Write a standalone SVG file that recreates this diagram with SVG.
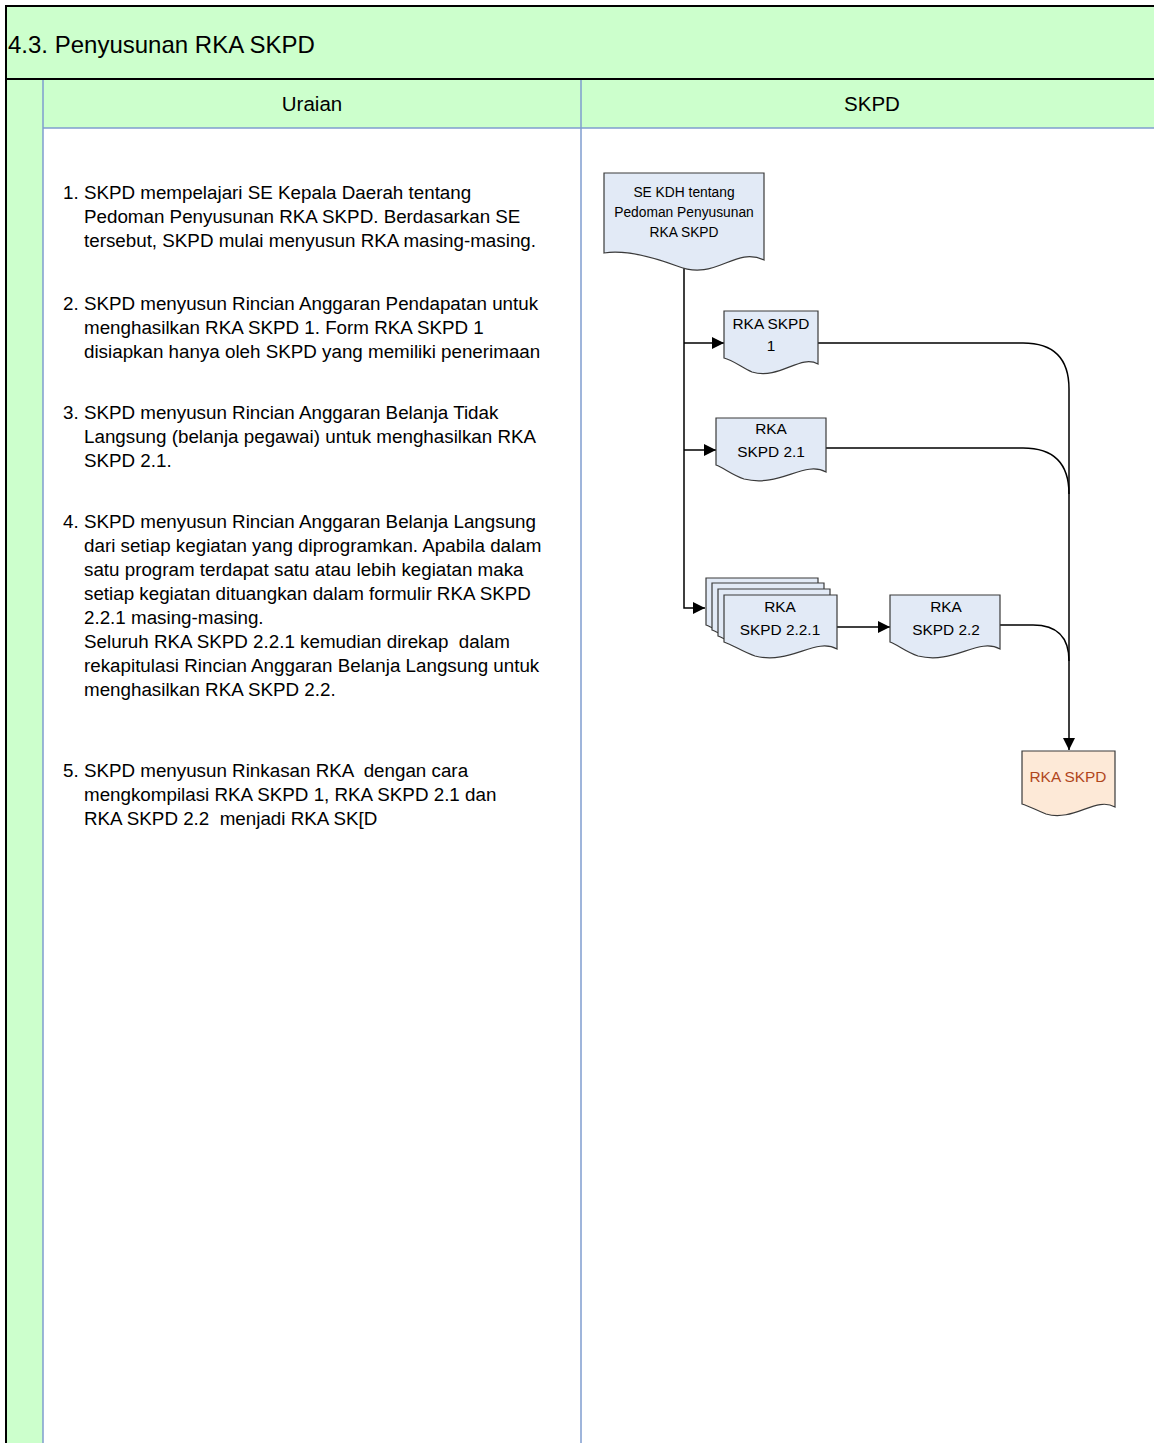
<svg xmlns="http://www.w3.org/2000/svg" width="1154" height="1443" viewBox="0 0 1154 1443">
  <defs>
    <marker id="arrow" viewBox="0 0 12 12" refX="12" refY="6" markerWidth="12" markerHeight="12" markerUnits="userSpaceOnUse" orient="auto">
      <path d="M0,0 L12,6 L0,12 Z" fill="#000"/>
    </marker>
  </defs>
  <style>
    .lane { fill: #ccffcc; }
    .grid { stroke: #7f9ccf; stroke-width: 1.5; fill: none; }
    .doc { fill: #e2eaf6; stroke: #3a3a3a; stroke-width: 1.2; }
    .out { fill: #fde9d7; stroke: #3a3a3a; stroke-width: 1.2; }
    .txt { font-family: "Liberation Sans", Arial, sans-serif; fill: #000; }
    .body { font-size: 18.8px; }
    .lbl { font-size: 15.4px; text-anchor: middle; }
    .conn { fill: none; stroke: #000; stroke-width: 1.5; }
  </style>

  <!-- page background -->
  <rect x="0" y="0" width="1154" height="1443" fill="#fff"/>

  <!-- swimlane frame -->
  <g id="frame">
    <rect class="lane" x="6" y="6" width="1160" height="73" stroke="#000" stroke-width="2"/>
    <rect class="lane" x="6" y="79" width="37" height="1370"/>
    <rect class="lane" x="43" y="79" width="1120" height="49"/>
    <line x1="6" y1="79" x2="6" y2="1443" stroke="#000" stroke-width="2"/>
    <line class="grid" x1="43" y1="79" x2="43" y2="1443"/>
    <line class="grid" x1="43" y1="128" x2="1154" y2="128"/>
    <line class="grid" x1="581" y1="79" x2="581" y2="1443"/>
    <line x1="6" y1="79" x2="1154" y2="79" stroke="#000" stroke-width="2"/>
    <text class="txt" x="8" y="53" font-size="24">4.3. Penyusunan RKA SKPD</text>
    <text class="txt" x="312" y="111" font-size="20.5" text-anchor="middle">Uraian</text>
    <text class="txt" x="872" y="111" font-size="20.5" text-anchor="middle">SKPD</text>
  </g>

  <!-- step descriptions -->
  <g id="uraian" class="txt body">
    <text x="63" y="199">1. SKPD mempelajari SE Kepala Daerah tentang</text>
    <text x="84" y="223">Pedoman Penyusunan RKA SKPD. Berdasarkan SE</text>
    <text x="84" y="247">tersebut, SKPD mulai menyusun RKA masing-masing.</text>

    <text x="63" y="310">2. SKPD menyusun Rincian Anggaran Pendapatan untuk</text>
    <text x="84" y="334">menghasilkan RKA SKPD 1. Form RKA SKPD 1</text>
    <text x="84" y="358">disiapkan hanya oleh SKPD yang memiliki penerimaan</text>

    <text x="63" y="419">3. SKPD menyusun Rincian Anggaran Belanja Tidak</text>
    <text x="84" y="443">Langsung (belanja pegawai) untuk menghasilkan RKA</text>
    <text x="84" y="467">SKPD 2.1.</text>

    <text x="63" y="528">4. SKPD menyusun Rincian Anggaran Belanja Langsung</text>
    <text x="84" y="552">dari setiap kegiatan yang diprogramkan. Apabila dalam</text>
    <text x="84" y="576">satu program terdapat satu atau lebih kegiatan maka</text>
    <text x="84" y="600">setiap kegiatan dituangkan dalam formulir RKA SKPD</text>
    <text x="84" y="624">2.2.1 masing-masing.</text>
    <text x="84" y="648" xml:space="preserve">Seluruh RKA SKPD 2.2.1 kemudian direkap  dalam</text>
    <text x="84" y="672">rekapitulasi Rincian Anggaran Belanja Langsung untuk</text>
    <text x="84" y="696">menghasilkan RKA SKPD 2.2.</text>

    <text x="63" y="777" xml:space="preserve">5. SKPD menyusun Rinkasan RKA  dengan cara</text>
    <text x="84" y="801">mengkompilasi RKA SKPD 1, RKA SKPD 2.1 dan</text>
    <text x="84" y="825" xml:space="preserve">RKA SKPD 2.2  menjadi RKA SK[D</text>
  </g>

  <!-- connectors -->
  <g id="connectors">
    <path class="conn" d="M684,264 V608 H705" marker-end="url(#arrow)"/>
    <path class="conn" d="M684,343 H724" marker-end="url(#arrow)"/>
    <path class="conn" d="M684,450 H716" marker-end="url(#arrow)"/>
    <path class="conn" d="M837,627 H890" marker-end="url(#arrow)"/>
    <path class="conn" d="M818,343 H1023 Q1069,343 1069,389 V750" marker-end="url(#arrow)"/>
    <path class="conn" d="M826,448 H1023 Q1069,448 1069,494"/>
    <path class="conn" d="M1000,625 H1033 Q1069,625 1069,661"/>
  </g>

  <!-- SE KDH source document -->
  <g id="se-kdh">
    <path class="doc" d="M604,173 H764 V260 C734,246 716,282 677,266 C650,256 624,250 604,253 Z"/>
    <text class="txt" font-size="13.8" text-anchor="middle" x="684" y="197">SE KDH tentang</text>
    <text class="txt" font-size="13.8" text-anchor="middle" x="684" y="217">Pedoman Penyusunan</text>
    <text class="txt" font-size="13.8" text-anchor="middle" x="684" y="237">RKA SKPD</text>
  </g>

  <!-- RKA SKPD 1 -->
  <g id="rka-1">
    <path class="doc" d="M724,311 H818 V364 C800,354 780,380 752,372 C740,366 732,360 724,358 Z"/>
    <text class="txt lbl" x="771" y="329">RKA SKPD</text>
    <text class="txt lbl" x="771" y="351">1</text>
  </g>

  <!-- RKA SKPD 2.1 -->
  <g id="rka-2-1">
    <path class="doc" d="M716,418 H826 V472 C804,460 780,488 744,479 C732,475 724,468 716,465 Z"/>
    <text class="txt lbl" x="771" y="434">RKA</text>
    <text class="txt lbl" x="771" y="457">SKPD 2.1</text>
  </g>

  <!-- RKA SKPD 2.2.1 (multiple documents) -->
  <g id="rka-2-2-1">
    <path class="doc" d="M706,578 H818 V632 C796,620 772,648 736,639 C724,635 714,628 706,625 Z"/>
    <path class="doc" d="M712,583 H824 V637 C802,625 778,653 742,644 C730,640 720,633 712,630 Z"/>
    <path class="doc" d="M718,589 H830 V643 C808,631 784,659 748,650 C736,646 726,639 718,636 Z"/>
    <path class="doc" d="M724,595 H837 V649 C815,637 791,665 755,656 C743,652 733,645 724,642 Z"/>
    <text class="txt lbl" x="780" y="612">RKA</text>
    <text class="txt lbl" x="780" y="635">SKPD 2.2.1</text>
  </g>

  <!-- RKA SKPD 2.2 -->
  <g id="rka-2-2">
    <path class="doc" d="M890,595 H1000 V649 C978,637 954,665 918,656 C906,652 898,645 890,642 Z"/>
    <text class="txt lbl" x="946" y="612">RKA</text>
    <text class="txt lbl" x="946" y="635">SKPD 2.2</text>
  </g>

  <!-- RKA SKPD result -->
  <g id="rka-skpd">
    <path class="out" d="M1022,751 H1115 V807 C1096,796 1074,822 1046,814 C1036,810 1029,806 1022,804 Z"/>
    <text class="txt lbl" x="1068" y="782" style="fill:#b0461c">RKA SKPD</text>
  </g>
</svg>
